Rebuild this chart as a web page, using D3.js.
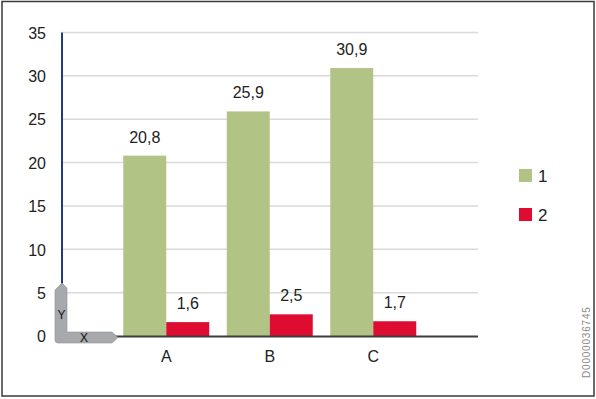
<!DOCTYPE html>
<html>
<head>
<meta charset="utf-8">
<script src="https://cdn.jsdelivr.net/npm/d3@7"></script>
<style>
html,body{margin:0;padding:0;background:#fff;}
svg{display:block;}
text{font-family:"Liberation Sans",Arial,sans-serif;}
</style>
</head>
<body>
<svg id="chart" width="596" height="399"></svg>
<script>
const categories = ["A", "B", "C"];
const seriesNames = ["1", "2"];
const series1 = [20.8, 25.9, 30.9];
const series2 = [1.6, 2.5, 1.7];
const valueLabels1 = ["20,8", "25,9", "30,9"];
const valueLabels2 = ["1,6", "2,5", "1,7"];
const yTicks = [0, 5, 10, 15, 20, 25, 30, 35];
const colors = ["#b2c386", "#df0c31"];

const svg = d3.select("#chart");

// outer frame
svg.append("rect").attr("x", 2).attr("y", 1.5).attr("width", 592).attr("height", 394.5)
  .attr("fill", "none").attr("stroke", "#3a3a3a").attr("stroke-width", 1.5);

const y = d3.scaleLinear().domain([0, 35]).range([336, 32.5]);
const x = d3.scaleBand().domain(categories).range([114.5, 425]).padding(0);
const groupW = 86;
const xs = d3.scaleBand().domain(seriesNames)
  .range([(x.bandwidth() - groupW) / 2, (x.bandwidth() + groupW) / 2]).padding(0);

// gridlines
svg.append("g").selectAll("line").data(yTicks.filter(d => d > 0)).join("line")
  .attr("x1", 62).attr("x2", 478)
  .attr("y1", d => y(d)).attr("y2", d => y(d))
  .attr("stroke", "#d9d9d9").attr("stroke-width", 1.5);

// y tick labels via axis
const yAxis = d3.axisLeft(y).tickValues(yTicks).tickSize(0).tickPadding(0).tickFormat(d3.format("d"));
const gy = svg.append("g").attr("transform", "translate(46,0)").call(yAxis);
gy.select(".domain").remove();
gy.selectAll("text").attr("font-size", 16).attr("fill", "#222")
  .attr("font-family", "'Liberation Sans', Arial, sans-serif").attr("dy", "0.36em");

// bars
const groups = svg.append("g").selectAll("g").data(categories).join("g")
  .attr("transform", d => `translate(${x(d)},0)`);
const allSeries = [series1, series2];
const allLabels = [valueLabels1, valueLabels2];
groups.selectAll("rect").data((c, i) => seriesNames.map((s, k) => ({ s, k, v: allSeries[k][i] })))
  .join("rect")
  .attr("x", d => xs(d.s)).attr("width", xs.bandwidth())
  .attr("y", d => y(d.v)).attr("height", d => y(0) - y(d.v))
  .attr("fill", d => colors[d.k]);
groups.selectAll("text.val").data((c, i) => seriesNames.map((s, k) => ({ s, k, v: allSeries[k][i], t: allLabels[k][i] })))
  .join("text").attr("class", "val")
  .attr("x", d => xs(d.s) + xs.bandwidth() / 2)
  .attr("y", d => y(d.v) - 13)
  .attr("text-anchor", "middle").attr("font-size", 16).attr("fill", "#222")
  .text(d => d.t);

// x axis line
svg.append("line").attr("x1", 112).attr("x2", 478).attr("y1", 336.5).attr("y2", 336.5)
  .attr("stroke", "#3c3c3c").attr("stroke-width", 2);

// category labels via axis
const xAxis = d3.axisBottom(x).tickSize(0).tickPadding(0);
const gx = svg.append("g").attr("transform", "translate(0,351)").call(xAxis);
gx.select(".domain").remove();
gx.selectAll("text").attr("font-size", 16).attr("fill", "#222")
  .attr("font-family", "'Liberation Sans', Arial, sans-serif").attr("dy", "0.71em");

// y axis (blue line)
svg.append("line").attr("x1", 62).attr("x2", 62).attr("y1", y(35)).attr("y2", 286)
  .attr("stroke", "#233a82").attr("stroke-width", 2);

// XY icon
svg.append("path")
  .attr("d", "M55,290 L62,283 L67,288 L67,332 L112,332 L118,337.5 L112,343 L58,343 Q55,343 55,340 Z")
  .attr("fill", "#a7a9ac").attr("stroke", "#8f9194").attr("stroke-width", 0.6);
svg.append("text").attr("x", 61.5).attr("y", 319).attr("text-anchor", "middle")
  .attr("font-size", 12).attr("fill", "#111").text("Y");
svg.append("text").attr("x", 84).attr("y", 342).attr("text-anchor", "middle")
  .attr("font-size", 12).attr("fill", "#111").text("X");

// legend
const lg = svg.append("g").selectAll("g").data(seriesNames).join("g")
  .attr("transform", (d, i) => `translate(519,${169 + i * 39})`);
lg.append("rect").attr("width", 13).attr("height", 13).attr("fill", (d, i) => colors[i]);
lg.append("text").attr("x", 19).attr("y", 12.5).attr("font-size", 17).attr("fill", "#222").text(d => d);

// watermark
svg.append("text").attr("transform", "translate(590,378) rotate(-90)")
  .attr("font-size", 10).attr("fill", "#8a8a8a").attr("letter-spacing", 0.8)
  .text("D0000036745");
</script>
</body>
</html>
